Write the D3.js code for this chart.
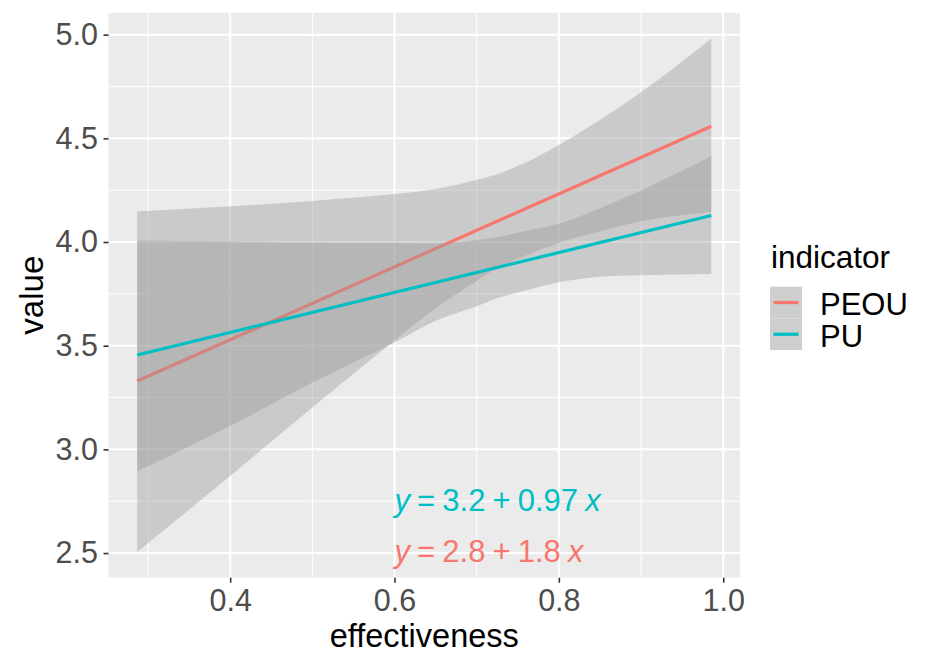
<!DOCTYPE html>
<html><head><meta charset="utf-8">
<script src="https://cdn.jsdelivr.net/npm/d3@7"></script>
<style>body{margin:0;background:#fff} text{font-family:"Liberation Sans",Arial,Helvetica,sans-serif}</style>
</head><body><svg id="c" width="927" height="652"></svg>
<script>
// ---- data ----
const indicators = ["PEOU", "PU"];
const colors = ["#F8766D", "#00BFC4"];
const bandX     = [0.2869, 0.4,   0.5,   0.6,   0.65,  0.7,   0.725, 0.75,  0.8,   0.85,  0.9,   0.9855];
const peouUpper = [4.147,  4.172, 4.198, 4.231, 4.256, 4.299, 4.327, 4.366, 4.468, 4.588, 4.722, 4.982];
const peouLower = [2.505,  2.872, 3.202, 3.525, 3.680, 3.812, 3.873, 3.918, 3.997, 4.052, 4.100, 4.145];
const puUpper   = [4.007,  4.002, 3.997, 3.995, 3.993, 4.010, 4.023, 4.045, 4.088, 4.163, 4.249, 4.413];
const puLower   = [2.895,  3.113, 3.322, 3.515, 3.620, 3.690, 3.729, 3.757, 3.806, 3.833, 3.840, 3.846];
const lineX   = [0.2869, 0.9855];
const peouFit = [3.330, 4.558];
const puFit   = [3.455, 4.128];
const eqIntercept = ["2.8", "3.2"];
const eqSlope     = ["1.8", "0.97"];
const eqLabelX = 0.6;
const eqLabelY = [2.5, 2.75];
const xTicks = [0.4, 0.6, 0.8, 1.0];
const xMinor = [0.3, 0.5, 0.7, 0.9];
const yTicks = [2.5, 3.0, 3.5, 4.0, 4.5, 5.0];
const yMinor = [2.75, 3.25, 3.75, 4.25, 4.75];

// ---- layout ----
const panel = {left: 108.5, right: 740, top: 12.7, bottom: 577.7};
const svg = d3.select("#c");

const xr = d3.extent(bandX), xR = xr[1] - xr[0];
const allY = peouUpper.concat(peouLower, puUpper, puLower);
const yr = d3.extent(allY), yR = yr[1] - yr[0];
const x = d3.scaleLinear().domain([xr[0] - 0.05 * xR, xr[1] + 0.05 * xR]).range([panel.left, panel.right]);
const y = d3.scaleLinear().domain([yr[0] - 0.05 * yR, yr[1] + 0.05 * yR]).range([panel.bottom, panel.top]);

// panel background
svg.append("rect").attr("x", panel.left).attr("y", panel.top)
  .attr("width", panel.right - panel.left).attr("height", panel.bottom - panel.top)
  .attr("fill", "#EBEBEB");

const grid = svg.append("g");
grid.selectAll(".ym").data(yMinor).join("line")
  .attr("x1", panel.left).attr("x2", panel.right).attr("y1", d => y(d)).attr("y2", d => y(d))
  .attr("stroke", "#fff").attr("stroke-width", 1);
grid.selectAll(".xm").data(xMinor).join("line")
  .attr("y1", panel.top).attr("y2", panel.bottom).attr("x1", d => x(d)).attr("x2", d => x(d))
  .attr("stroke", "#fff").attr("stroke-width", 1);
grid.selectAll(".yM").data(yTicks).join("line")
  .attr("x1", panel.left).attr("x2", panel.right).attr("y1", d => y(d)).attr("y2", d => y(d))
  .attr("stroke", "#fff").attr("stroke-width", 2);
grid.selectAll(".xM").data(xTicks).join("line")
  .attr("y1", panel.top).attr("y2", panel.bottom).attr("x1", d => x(d)).attr("x2", d => x(d))
  .attr("stroke", "#fff").attr("stroke-width", 2);

// ribbons + lines (per group: ribbon then line)
const area = d3.area().x(d => x(d[0])).y0(d => y(d[1])).y1(d => y(d[2])).curve(d3.curveMonotoneX);
const line = d3.line().x(d => x(d[0])).y(d => y(d[1]));
const groups = [
  {band: bandX.map((v, i) => [v, peouLower[i], peouUpper[i]]), fit: lineX.map((v, i) => [v, peouFit[i]]), color: colors[0]},
  {band: bandX.map((v, i) => [v, puLower[i], puUpper[i]]), fit: lineX.map((v, i) => [v, puFit[i]]), color: colors[1]}
];
groups.forEach(g => {
  svg.append("path").datum(g.band).attr("d", area).attr("fill", "#999999").attr("fill-opacity", 0.4);
  svg.append("path").datum(g.fit).attr("d", line).attr("fill", "none").attr("stroke", g.color).attr("stroke-width", 3.2);
});

// equations
[1, 0].forEach(i => {
  const t = svg.append("text").attr("x", x(eqLabelX)).attr("y", y(eqLabelY[i])).attr("dy", "0.3em")
    .attr("fill", colors[i]).attr("font-size", 31).attr("word-spacing", "-1.5px");
  t.append("tspan").attr("font-style", "italic").text("y");
  t.append("tspan").text(" = " + eqIntercept[i] + " + " + eqSlope[i] + " ");
  t.append("tspan").attr("font-style", "italic").text("x");
});

// axes
const fmt = d3.format(".1f");
const ax = svg.append("g").attr("transform", `translate(0,${panel.bottom})`)
  .call(d3.axisBottom(x).tickValues(xTicks).tickFormat(fmt).tickSize(5).tickPadding(7));
const ay = svg.append("g").attr("transform", `translate(${panel.left},0)`)
  .call(d3.axisLeft(y).tickValues(yTicks).tickFormat(fmt).tickSize(5).tickPadding(5.5));
[ax, ay].forEach(a => {
  a.select(".domain").remove();
  a.selectAll(".tick line").attr("stroke", "#333333").attr("stroke-width", 1.6);
  a.selectAll(".tick text").attr("fill", "#4D4D4D").attr("font-size", 30.5)
    .style("font-family", '"Liberation Sans",Arial,Helvetica,sans-serif');
});

// axis titles
svg.append("text").attr("x", (panel.left + panel.right) / 2).attr("y", 646.5)
  .attr("text-anchor", "middle").attr("font-size", 32.5).attr("fill", "#000").text("effectiveness");
svg.append("text").attr("transform", `translate(43,${(panel.top + panel.bottom) / 2}) rotate(-90)`)
  .attr("text-anchor", "middle").attr("font-size", 33).attr("fill", "#000").text("value");

// legend
const lg = svg.append("g");
lg.append("text").attr("x", 771).attr("y", 267.5).attr("font-size", 31.5).attr("fill", "#000").text("indicator");
indicators.forEach((name, i) => {
  const ky = 286.7 + i * 31.7;
  lg.append("rect").attr("x", 770).attr("y", ky).attr("width", 32).attr("height", 31.7).attr("fill", "#F2F2F2");
  lg.append("rect").attr("x", 770).attr("y", ky).attr("width", 32).attr("height", 31.7)
    .attr("fill", "#999999").attr("fill-opacity", 0.4);
  lg.append("line").attr("x1", 773.5).attr("x2", 798.5).attr("y1", ky + 15.85).attr("y2", ky + 15.85)
    .attr("stroke", colors[i]).attr("stroke-width", 3.2);
  lg.append("text").attr("x", 820).attr("y", ky + 15.85).attr("dy", "0.4em")
    .attr("font-size", 31).attr("fill", "#000").text(name);
});
</script></body></html>
